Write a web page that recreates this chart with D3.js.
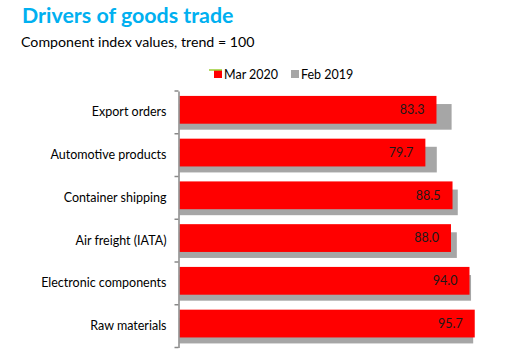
<!DOCTYPE html>
<html><head><meta charset="utf-8">
<script src="https://cdn.jsdelivr.net/npm/d3@7"></script>
<style>body{margin:0;background:#fff;}svg{display:block;}</style>
</head><body>
<script>
const categories = ["Export orders","Automotive products","Container shipping","Air freight (IATA)","Electronic components","Raw materials"];
const mar2020 = [83.3, 79.7, 88.5, 88.0, 94.0, 95.7];
const feb2019 = [88.2, 83.4, 90.2, 89.9, 94.5, 95.2];
const seriesNames = ["Mar 2020","Feb 2019"];

const W = 506, H = 357;
const font = "Lato, 'Open Sans', sans-serif";
const svg = d3.select("body").append("svg").attr("width", W).attr("height", H);

svg.append("text").attr("x", 22).attr("y", 23).text("Drivers of goods trade")
  .attr("font-family", font).attr("font-weight", "bold").attr("font-size", 21.4).attr("fill", "#00b0f0");
svg.append("text").attr("x", 21).attr("y", 47).text("Component index values, trend = 100")
  .attr("font-family", font).attr("font-size", 14.2).attr("fill", "#000");

const y = d3.scaleBand().domain(categories).range([91, 347.5]).padding(0);
const x = d3.scaleLinear().domain([0, 100]).range([179.5, 488]);
const bw = y.bandwidth();

const data = categories.map((c, i) => ({c, a: mar2020[i], b: feb2019[i]}));

// gray (Feb 2019) behind
svg.append("g").selectAll("rect").data(data).join("rect")
  .attr("x", x(0)).attr("y", d => y(d.c) + bw * 0.305)
  .attr("width", d => x(d.b) - x(0)).attr("height", bw * 0.6)
  .attr("fill", "#a6a6a6");
// red (Mar 2020)
svg.append("g").selectAll("rect").data(data).join("rect")
  .attr("x", x(0)).attr("y", d => y(d.c) + bw * 0.115)
  .attr("width", d => x(d.a) - x(0)).attr("height", bw * 0.65)
  .attr("fill", "#ff0000");

svg.append("g").selectAll("text").data(data).join("text")
  .attr("x", d => x(d.a) - 12).attr("y", d => y(d.c) + bw * 0.115 + bw * 0.325)
  .attr("dy", "0.35em").attr("text-anchor", "end")
  .attr("font-family", font).attr("font-size", 12.5).attr("fill", "#1a1a1a")
  .text(d => d.a.toFixed(1));

// axis
const axis = d3.axisLeft(y).tickSizeInner(0).tickSizeOuter(0).tickPadding(12);
const gA = svg.append("g").attr("transform", "translate(178.5,0)").call(axis);
gA.select(".domain").attr("stroke", "#888").attr("stroke-width", 1.5);
gA.selectAll(".tick text").attr("font-family", font).attr("font-size", 12.5).attr("fill", "#000");
// boundary ticks
const bounds = categories.map(c => y(c)).concat([y.range()[1]]);
svg.append("g").selectAll("line").data(bounds).join("line")
  .attr("x1", 174.5).attr("x2", 178.5).attr("y1", d => d).attr("y2", d => d)
  .attr("stroke", "#888").attr("stroke-width", 1.5);

// legend
const lg = svg.append("g").attr("font-family", font).attr("font-size", 12.5);
lg.append("rect").attr("x", 214).attr("y", 70).attr("width", 8).attr("height", 8).attr("fill", "#ff0000");
lg.append("line").attr("x1", 209).attr("x2", 222).attr("y1", 70).attr("y2", 70).attr("stroke", "#9acd32").attr("stroke-width", 1.5);
lg.append("text").attr("x", 224).attr("y", 79).text(seriesNames[0]);
lg.append("rect").attr("x", 291).attr("y", 70).attr("width", 8).attr("height", 8).attr("fill", "#a6a6a6");
lg.append("text").attr("x", 301).attr("y", 79).text(seriesNames[1]);
</script>
</body></html>
